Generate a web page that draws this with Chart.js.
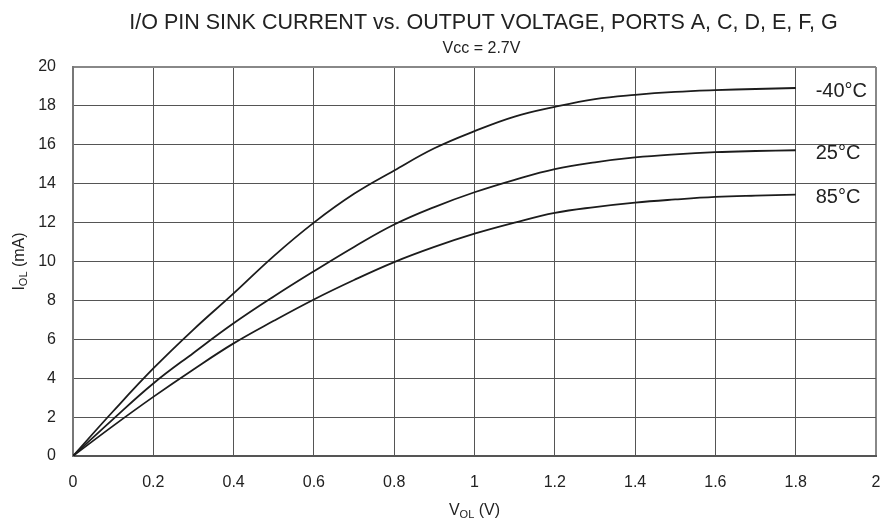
<!DOCTYPE html>
<html>
<head>
<meta charset="utf-8">
<script src="https://cdn.jsdelivr.net/npm/chart.js@4.4.0/dist/chart.umd.min.js"></script>
<style>
  html, body { margin: 0; padding: 0; background: #fff; }
  #wrap { width: 889px; height: 527px; }
</style>
</head>
<body>
<div id="wrap"><canvas id="chart"></canvas></div>
<script>
const FONT = '"Liberation Sans", Arial, Helvetica, sans-serif';

// V_OL (V) sample points
const voltages = [0, 0.1, 0.2, 0.3, 0.4, 0.5, 0.6, 0.7, 0.8, 0.9, 1.0, 1.1, 1.2, 1.3, 1.4, 1.5, 1.6, 1.7, 1.8];

// I_OL (mA) for each temperature
const sinkM40 = [0, 2.3, 4.5, 6.5, 8.36, 10.28, 12.0, 13.48, 14.68, 15.82, 16.7, 17.45, 17.95, 18.35, 18.57, 18.72, 18.81, 18.87, 18.92];
const sink25 = [0, 1.9, 3.73, 5.3, 6.82, 8.2, 9.5, 10.75, 11.9, 12.8, 13.56, 14.2, 14.75, 15.1, 15.35, 15.51, 15.62, 15.68, 15.72];
const sink85 = [0, 1.55, 3.04, 4.45, 5.79, 6.95, 8.05, 9.05, 9.97, 10.75, 11.43, 12.0, 12.5, 12.8, 13.03, 13.19, 13.32, 13.39, 13.44];

const seriesNames = ['-40°C', '25°C', '85°C'];

const titleText = 'I/O PIN SINK CURRENT vs. OUTPUT VOLTAGE, PORTS A, C, D, E, F, G';
const subtitleText = 'Vcc = 2.7V';

function points(ys) {
  return voltages.map((v, i) => ({ x: v, y: ys[i] }));
}

function curve(name, ys) {
  return {
    label: name,
    data: points(ys),
    borderColor: '#1c1c1c',
    borderWidth: 1.8,
    pointRadius: 0,
    fill: false,
    tension: 0.4
  };
}

// text label at the right end of each curve
const curveLabels = {
  id: 'curveLabels',
  afterDatasetsDraw(chart) {
    const { ctx, scales: { x, y } } = chart;
    ctx.save();
    ctx.font = '20px ' + FONT;
    ctx.fillStyle = '#222';
    ctx.textBaseline = 'middle';
    ctx.textAlign = 'left';
    chart.data.datasets.forEach(ds => {
      const last = ds.data[ds.data.length - 1];
      ctx.fillText(ds.label, x.getPixelForValue(last.x) + 20, y.getPixelForValue(last.y) + 3);
    });
    ctx.restore();
  }
};

// heading sits a bit right of the plot centre in the original
const heading = {
  id: 'heading',
  afterDraw(chart) {
    const { ctx, chartArea } = chart;
    const cx = (chartArea.left + chartArea.right) / 2;
    ctx.save();
    ctx.fillStyle = '#222';
    ctx.textAlign = 'center';
    ctx.textBaseline = 'alphabetic';
    ctx.font = '21.5px ' + FONT;
    ctx.fillText(titleText, cx + 9, 29);
    ctx.font = '16px ' + FONT;
    ctx.fillText(subtitleText, cx + 7, 53);
    ctx.restore();
  }
};

// draws main + subscript + rest, centred on (cx, baseline)
function drawSubText(ctx, main, sub, rest, cx, base) {
  const big = '16px ' + FONT;
  const small = '11px ' + FONT;
  ctx.font = big;
  const w1 = ctx.measureText(main).width;
  const w3 = ctx.measureText(rest).width;
  ctx.font = small;
  const w2 = ctx.measureText(sub).width;
  let x = cx - (w1 + w2 + w3) / 2;
  ctx.textAlign = 'left';
  ctx.textBaseline = 'alphabetic';
  ctx.font = big;
  ctx.fillText(main, x, base);
  x += w1;
  ctx.font = small;
  ctx.fillText(sub, x, base + 3);
  x += w2;
  ctx.font = big;
  ctx.fillText(rest, x, base);
}

const axisTitles = {
  id: 'axisTitles',
  afterDraw(chart) {
    const { ctx, chartArea } = chart;
    ctx.save();
    ctx.fillStyle = '#222';
    drawSubText(ctx, 'V', 'OL', ' (V)', (chartArea.left + chartArea.right) / 2, 515);
    ctx.translate(24, (chartArea.top + chartArea.bottom) / 2);
    ctx.rotate(-Math.PI / 2);
    drawSubText(ctx, 'I', 'OL', ' (mA)', 0, 0);
    ctx.restore();
  }
};

function edgeWidth(max) {
  return c => (c.tick && c.tick.value === max ? 2 : 1);
}
function edgeColor(max) {
  return c => (c.tick && c.tick.value === max ? '#888' : '#555');
}

new Chart(document.getElementById('chart'), {
  type: 'line',
  data: {
    datasets: [
      curve(seriesNames[0], sinkM40),
      curve(seriesNames[1], sink25),
      curve(seriesNames[2], sink85)
    ]
  },
  options: {
    responsive: true,
    maintainAspectRatio: false,
    animation: false,
    layout: { padding: { top: 67, right: 13, bottom: 0, left: 0 } },
    plugins: {
      legend: { display: false },
      tooltip: { enabled: false },
      title: { display: false },
      subtitle: { display: false }
    },
    scales: {
      x: {
        type: 'linear',
        min: 0,
        max: 2,
        ticks: {
          stepSize: 0.2,
          padding: 17,
          color: '#222',
          font: { family: FONT, size: 16 },
          callback: v => String(Math.round(v * 10) / 10)
        },
        grid: { drawTicks: false, color: edgeColor(2), lineWidth: edgeWidth(2) },
        border: { color: '#555', width: 2 },
        afterFit: s => { s.height = 71; s.paddingRight = 0; s.paddingLeft = 0; }
      },
      y: {
        min: 0,
        max: 20,
        ticks: {
          stepSize: 2,
          padding: 17,
          color: '#222',
          font: { family: FONT, size: 16 }
        },
        grid: { drawTicks: false, color: edgeColor(20), lineWidth: edgeWidth(20) },
        border: { color: '#777', width: 2 },
        afterFit: s => { s.width = 73; }
      }
    }
  },
  plugins: [curveLabels, heading, axisTitles]
});
</script>
</body>
</html>
